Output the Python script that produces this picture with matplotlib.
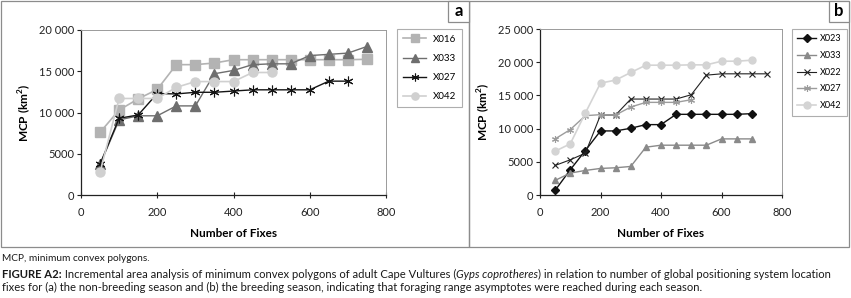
import matplotlib
matplotlib.use("Agg")
import matplotlib.pyplot as plt
from matplotlib.patches import Rectangle

plt.rcParams['font.family'] = ['Lato', 'DejaVu Sans']

# ---- data -----------------------------------------------------------------
fixes = [50, 100, 150, 200, 250, 300, 350, 400, 450, 500, 550, 600, 650, 700, 750]

# (a) non-breeding season
a_x016 = [7600, 10300, 11650, 12800, 15800, 15800, 16000, 16400, 16400, 16400, 16400, 16400, 16400, 16400, 16450]
a_x033 = [3700, 9100, 9600, 9600, 10800, 10800, 14700, 15100, 15800, 15900, 15900, 16900, 17050, 17200, 18000]
a_x027 = [3750, 9300, 9700, 12300, 12250, 12450, 12450, 12600, 12750, 12750, 12750, 12750, 13800, 13800]
a_x042 = [2800, 11700, 11700, 11700, 13050, 13750, 13750, 13750, 14850, 14850]

# (b) breeding season
b_x023 = [700, 3800, 6700, 9650, 9650, 10050, 10600, 10600, 12150, 12150, 12150, 12150, 12150, 12250]
b_x033 = [2200, 3300, 3700, 4000, 4100, 4300, 7200, 7500, 7500, 7500, 7500, 8450, 8450, 8450]
b_x022 = [4450, 5300, 6300, 12050, 12050, 14450, 14450, 14450, 14450, 15100, 18050, 18250, 18250, 18250, 18250]
b_x027 = [8450, 9850, 11950, 12100, 12050, 13250, 13950, 13950, 13950, 14350]
b_x042 = [6600, 7700, 12350, 16850, 17300, 18450, 19550, 19550, 19550, 19600, 19600, 20150, 20150, 20300]

x_ticks = [0, 200, 400, 600, 800]
a_yticks = [0, 5000, 10000, 15000, 20000]
a_ylabels = ["0", "5000", "10 000", "15 000", "20 000"]
b_yticks = [0, 5000, 10000, 15000, 20000, 25000]
b_ylabels = ["0", "5000", "10 000", "15 000", "20 000", "25 000"]

W, H = 851, 298
fig = plt.figure(figsize=(W / 100, H / 100), dpi=100)


def px_rect(x0, y0, x1, y1):
    # pixel box (top-left origin) -> figure fraction rect
    return [x0 / W, 1 - y1 / H, (x1 - x0) / W, (y1 - y0) / H]


def style_axes(ax, yticks, ylabels, ymax):
    ax.set_xlim(0, 800)
    ax.set_ylim(0, ymax)
    ax.set_xticks(x_ticks)
    ax.set_yticks(yticks)
    ax.set_yticklabels(ylabels)
    for side in ["top", "right"]:
        ax.spines[side].set_color("#9a9a9a")
        ax.spines[side].set_linewidth(0.7)
    for side in ["left", "bottom"]:
        ax.spines[side].set_color("#222222")
        ax.spines[side].set_linewidth(0.9)
    ax.tick_params(axis="x", direction="inout", length=5, width=0.8, labelsize=8, pad=6, colors="#222222")
    ax.tick_params(axis="y", direction="out", length=3, width=0.8, labelsize=8, pad=2, colors="#222222")
    ax.set_xlabel("Number of Fixes", fontsize=8.5, fontweight="bold", labelpad=7)
    ax.set_ylabel("MCP (km$^\\mathregular{2}$)", fontsize=8.5, fontweight="bold", labelpad=4)


# ---- panel a ----------------------------------------------------------------
ax_a = fig.add_axes(px_rect(81, 30, 386, 195))
ax_a.plot(fixes[:len(a_x016)], a_x016, "-s", color="#b3b3b3", ms=6.5, lw=1.2, label="X016")
ax_a.plot(fixes[:len(a_x033)], a_x033, "-^", color="#6e6e6e", ms=6.5, lw=1.0, label="X033")
ax_a.plot(fixes[:len(a_x027)], a_x027, "-", marker=(6, 2, 0), color="#151515", ms=7, mew=0.8, lw=1.0, label="X027")
ax_a.plot(fixes[:len(a_x042)], a_x042, "-o", color="#d0d0d0", ms=6.5, lw=1.2, label="X042")
style_axes(ax_a, a_yticks, a_ylabels, 20000)
leg_a = ax_a.legend(loc="upper left", bbox_to_anchor=(397 / W, 1 - 29 / H), bbox_transform=fig.transFigure,
                    fontsize=7, frameon=True, fancybox=False, edgecolor="#9a9a9a", borderpad=0.6,
                    labelspacing=1.05, handlelength=2.4, handletextpad=0.7, borderaxespad=0, markerscale=0.8)
leg_a.get_frame().set_linewidth(0.8)

# ---- panel b ----------------------------------------------------------------
ax_b = fig.add_axes(px_rect(540, 29, 782, 195))
ax_b.plot(fixes[:len(b_x023)], b_x023, "-D", color="#111111", ms=3.6, lw=1.0, label="X023")
ax_b.plot(fixes[:len(b_x033)], b_x033, "-^", color="#8a8a8a", ms=4.5, lw=1.0, label="X033")
ax_b.plot(fixes[:len(b_x022)], b_x022, "-x", color="#222222", ms=4.5, mew=0.8, lw=0.8, label="X022")
ax_b.plot(fixes[:len(b_x027)], b_x027, "-", marker=(6, 2, 0), color="#9c9c9c", ms=5, mew=0.8, lw=1.0, label="X027")
ax_b.plot(fixes[:len(b_x042)], b_x042, "-o", color="#d4d4d4", ms=5, lw=1.2, label="X042")
style_axes(ax_b, b_yticks, b_ylabels, 25000)
leg_b = ax_b.legend(loc="upper left", bbox_to_anchor=(792 / W, 1 - 29 / H), bbox_transform=fig.transFigure,
                    fontsize=6.5, frameon=True, fancybox=False, edgecolor="#9a9a9a", borderpad=0.6,
                    labelspacing=0.85, handlelength=2.1, handletextpad=0.4, borderaxespad=0)
leg_b.get_frame().set_linewidth(0.8)

# ---- panel frames and letters ---------------------------------------------
for x0, x1 in [(1, 469), (469, 849)]:
    fig.patches.append(Rectangle((x0 / W, 1 - 247 / H), (x1 - x0) / W, 246 / H, transform=fig.transFigure,
                                 fill=False, edgecolor="#8c8c8c", lw=0.9))
for letter, x0, x1 in [("a", 448, 469), ("b", 829, 849)]:
    fig.patches.append(Rectangle((x0 / W, 1 - 22 / H), (x1 - x0) / W, 21 / H, transform=fig.transFigure,
                                 facecolor="white", edgecolor="#8c8c8c", lw=0.9))
    fig.text((x0 + x1) / 2 / W, 1 - 11.5 / H, letter, ha="center", va="center", fontsize=12, fontweight="bold")


# ---- caption ------------------------------------------------------------------
def draw_runs(x, y, runs, size):
    renderer = fig.canvas.get_renderer()
    for txt, kw in runs:
        t = fig.text(x / W, 1 - y / H, txt, fontsize=size, va="baseline", ha="left", color="#1a1a1a", **kw)
        bb = t.get_window_extent(renderer=renderer)
        x += bb.width


fig.canvas.draw()
draw_runs(2, 261, [("MCP, minimum convex polygons.", {})], size=7.3)
draw_runs(2, 278, [("FIGURE A2:", {"fontweight": "bold"}),
                   (" Incremental area analysis of minimum convex polygons of adult Cape Vultures (", {}),
                   ("Gyps coprotheres", {"fontstyle": "italic"}),
                   (") in relation to number of global positioning system location", {})], size=8.1)
draw_runs(2, 291, [("fixes for (a) the non-breeding season and (b) the breeding season, indicating that foraging range asymptotes were reached during each season.", {})], size=8.1)

fig.savefig("out.png", dpi=100)
